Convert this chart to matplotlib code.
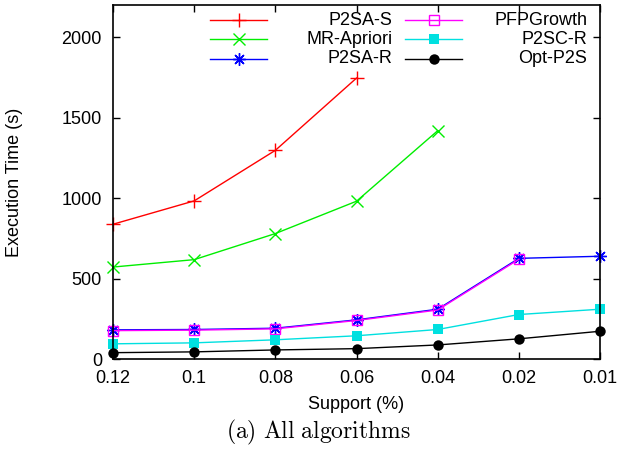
import matplotlib
matplotlib.use("Agg")
import matplotlib.pyplot as plt
from matplotlib.lines import Line2D

plt.rcParams['font.family'] = ['Liberation Sans', 'DejaVu Sans']
plt.rcParams['mathtext.fontset'] = 'cm'

# Support thresholds (x categories) and execution times (s)
supports = ["0.12", "0.1", "0.08", "0.06", "0.04", "0.02", "0.01"]
p2sa_s = [838, 983, 1297, 1746]
mr_apriori = [572, 618, 780, 981, 1419]
p2sa_r = [182, 184, 192, 244, 310, 626, 639]
pfpgrowth = [177, 180, 188, 240, 305, 620]
p2sc_r = [95, 101, 120, 145, 184, 277, 310]
opt_p2s = [40, 45, 57, 65, 88, 126, 173]

labels = ["P2SA-S", "MR-Apriori", "P2SA-R", "PFPGrowth", "P2SC-R", "Opt-P2S"]
series = [p2sa_s, mr_apriori, p2sa_r, pfpgrowth, p2sc_r, opt_p2s]

# gnuplot-ish styles
styles = [
    dict(color='#ff0000', marker='+', ms=10, mew=1.0),
    dict(color='#00ee00', marker='x', ms=9, mew=1.0),
    dict(color='#0000ff', marker=(8, 2, 0), ms=9, mew=1.0),
    dict(color='#ff00ff', marker='s', ms=7.5, mew=1.0, mfc='none'),
    dict(color='#00e0e0', marker='s', ms=7.5, mew=0),
    dict(color='#000000', marker='o', ms=7.5, mew=0),
]

fig = plt.figure(figsize=(6.19, 4.54), dpi=100)
ax = fig.add_axes([0.1826, 0.209, 0.7867, 0.780])

for vals, st in zip(series, styles):
    ax.plot(supports[:len(vals)], vals, lw=1.0, clip_on=False, **st)

ax.set_xlim(0, 6)
ax.set_ylim(0, 2200)
ax.set_yticks([0, 500, 1000, 1500, 2000])
ax.tick_params(direction='in', length=5, width=1, top=True, right=True,
               labelsize=13)
ax.tick_params(axis='x', pad=8)
ax.tick_params(axis='y', pad=8)
for sp in ax.spines.values():
    sp.set_linewidth(1.2)

ax.set_xlabel("Support (%)", fontsize=13, labelpad=6)
ax.set_ylabel("Execution Time (s)", fontsize=13)
ax.yaxis.set_label_coords(-0.185, 0.5)

# legend in gnuplot layout: sample first, label right-aligned
rows = [0.9576, 0.9031, 0.8489]
cols = [(0.1992, 0.3162, 0.5743), (0.5996, 0.7166, 0.9739)]
for i, (lab, st) in enumerate(zip(labels, styles)):
    x0, x1, xt = cols[i // 3]
    y = rows[i % 3]
    ax.add_line(Line2D([x0, x1], [y, y], transform=ax.transAxes, lw=1.0,
                       clip_on=False, **st, markevery=[]))
    ax.add_line(Line2D([(x0 + x1) / 2], [y], transform=ax.transAxes,
                       linestyle='none', clip_on=False, **st))
    ax.text(xt, y, lab, transform=ax.transAxes, ha='right', va='center',
            fontsize=13)

fig.text(0.514, 0.047, r'$\mathrm{(a)\ All\ algorithms}$', ha='center',
         va='center', fontsize=17)

fig.savefig("out.png", dpi=100)
